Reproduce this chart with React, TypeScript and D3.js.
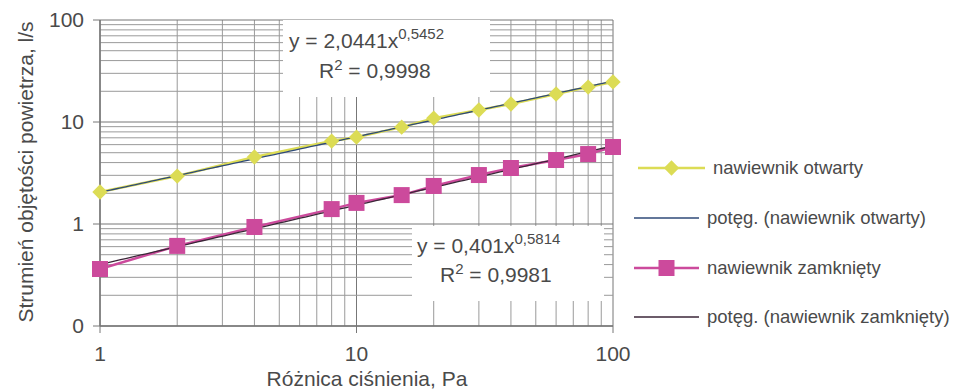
import * as d3 from 'd3';

// measured pressure differences, Pa
const pressure = [1, 2, 4, 8, 10, 15, 20, 30, 40, 60, 80, 100];
// air flow, l/s
const openFlow = [2.06, 2.95, 4.54, 6.5, 7.1, 8.9, 10.9, 13.1, 15.0, 18.8, 22.0, 24.7];
const closedFlow = [0.362, 0.61, 0.935, 1.4, 1.61, 1.92, 2.36, 3.02, 3.54, 4.24, 4.85, 5.69];

// power trendlines y = a * x^b
const trendOpen = { a: 2.0441, b: 0.5452 };
const trendClosed = { a: 0.401, b: 0.5814 };

const yTickValues = [0.1, 1, 10, 100];
const yTickLabels = ['0', '1', '10', '100'];
const xTickValues = [1, 10, 100];
const xTickLabels = ['1', '10', '100'];

const legendItems = [
  { label: 'nawiewnik otwarty', kind: 'diamond' },
  { label: 'potęg. (nawiewnik otwarty)', kind: 'trendOpen' },
  { label: 'nawiewnik zamknięty', kind: 'square' },
  { label: 'potęg. (nawiewnik zamknięty)', kind: 'trendClosed' },
];

const W = 953;
const H = 391;
const FONT = '"Liberation Sans", Arial, sans-serif';
const TEXT = '#4a4a4a';
const YELLOW = '#dcdc55';
const PINK = '#cc4a9c';
const TREND_OPEN = '#2f4a78';
const TREND_CLOSED = '#3b2638';

export default function App() {
  const x = d3.scaleLog().domain([1, 100]).range([100, 613]);
  const y = d3.scaleLog().domain([0.1, 100]).range([326, 20]);

  const gridX = x.ticks();
  const gridY = y.ticks();
  const isMajor = (v: number) => Math.abs(Math.log10(v) - Math.round(Math.log10(v))) < 1e-9;

  const line = d3.line<[number, number]>()
    .x(d => x(d[0]))
    .y(d => y(d[1]));

  const openPts = pressure.map((p, i) => [p, openFlow[i]] as [number, number]);
  const closedPts = pressure.map((p, i) => [p, closedFlow[i]] as [number, number]);

  const trendPts = (t: { a: number; b: number }) =>
    d3.range(0, 2.0001, 0.02).map(e => {
      const xv = Math.pow(10, e);
      return [xv, t.a * Math.pow(xv, t.b)] as [number, number];
    });

  const diamond = d3.symbol().type(d3.symbolDiamond2).size(150)();
  const legendY = [168, 218, 268, 317];

  return (
    <svg width={W} height={H} style={{ position: 'absolute', left: 0, top: 0, background: '#fff' }}
      fontFamily={FONT}>
      {/* grid */}
      <g strokeWidth={1}>
        {gridX.map(v => (
          <line key={'gx' + v} x1={x(v)} x2={x(v)} y1={y(100)} y2={y(0.1)}
            stroke={isMajor(v) ? '#777' : '#9a9a9a'} />
        ))}
        {gridY.map(v => (
          <line key={'gy' + v} x1={x(1)} x2={x(100)} y1={y(v)} y2={y(v)}
            stroke={isMajor(v) ? '#777' : '#9a9a9a'} />
        ))}
      </g>

      {/* label boxes cover the grid */}
      <rect x={283} y={20} width={207} height={77} fill="#fff" />
      <rect x={412} y={226} width={192} height={75} fill="#fff" />

      {/* axes */}
      <line x1={x(1)} x2={x(1)} y1={y(100)} y2={y(0.1)} stroke="#777" strokeWidth={1.5} />
      <line x1={x(1)} x2={x(100)} y1={y(0.1)} y2={y(0.1)} stroke="#777" strokeWidth={1.5} />
      {yTickValues.map(v => (
        <line key={'ty' + v} x1={x(1) - 7} x2={x(1)} y1={y(v)} y2={y(v)} stroke="#777" />
      ))}
      {xTickValues.map(v => (
        <line key={'tx' + v} x1={x(v)} x2={x(v)} y1={y(0.1)} y2={y(0.1) + 7} stroke="#777" />
      ))}

      {/* tick labels */}
      {yTickValues.map((v, i) => (
        <text key={'ly' + v} x={84} y={y(v)} dy="0.35em" textAnchor="end" fontSize={21} fill={TEXT}>
          {yTickLabels[i]}
        </text>
      ))}
      {xTickValues.map((v, i) => (
        <text key={'lx' + v} x={x(v)} y={361} textAnchor="middle" fontSize={21} fill={TEXT}>
          {xTickLabels[i]}
        </text>
      ))}

      {/* axis titles */}
      <text x={367} y={386} textAnchor="middle" fontSize={21} fill={TEXT}>Różnica ciśnienia, Pa</text>
      <text transform="translate(33,172) rotate(-90)" textAnchor="middle" fontSize={21} fill={TEXT}>
        Strumień objętości powietrza, l/s
      </text>

      {/* series lines */}
      <path d={line(openPts) ?? ''} fill="none" stroke={YELLOW} strokeWidth={2.5} />
      <path d={line(closedPts) ?? ''} fill="none" stroke={PINK} strokeWidth={2.5} />
      {/* trendlines */}
      <path d={line(trendPts(trendOpen)) ?? ''} fill="none" stroke={TREND_OPEN} strokeWidth={1.3} />
      <path d={line(trendPts(trendClosed)) ?? ''} fill="none" stroke={TREND_CLOSED} strokeWidth={1.3} />

      {/* markers */}
      {openPts.map(d => (
        <path key={'d' + d[0]} d={diamond ?? ''} transform={`translate(${x(d[0])},${y(d[1])})`} fill={YELLOW} />
      ))}
      {closedPts.map(d => (
        <rect key={'s' + d[0]} x={x(d[0]) - 8} y={y(d[1]) - 8} width={16} height={16} fill={PINK} />
      ))}

      {/* equations */}
      <text x={289} y={48} fontSize={21} fill={TEXT}>
        y = 2,0441x<tspan fontSize={15} dy={-9}>0,5452</tspan>
      </text>
      <text x={319} y={78} fontSize={21} fill={TEXT}>
        R<tspan fontSize={15} dy={-8}>2</tspan><tspan dy={8}> = 0,9998</tspan>
      </text>
      <text x={417} y={253} fontSize={21} fill={TEXT}>
        y = 0,401x<tspan fontSize={15} dy={-9}>0,5814</tspan>
      </text>
      <text x={440} y={282} fontSize={21} fill={TEXT}>
        R<tspan fontSize={15} dy={-8}>2</tspan><tspan dy={8}> = 0,9981</tspan>
      </text>

      {/* legend */}
      {legendItems.map((item, i) => {
        const ly = legendY[i];
        const color = item.kind === 'diamond' ? YELLOW : item.kind === 'square' ? PINK
          : item.kind === 'trendOpen' ? TREND_OPEN : TREND_CLOSED;
        const x0 = item.kind === 'diamond' ? 638 : 634;
        const x1 = item.kind === 'diamond' ? 705 : 699;
        return (
          <g key={item.label}>
            <line x1={x0} x2={x1} y1={ly} y2={ly} stroke={color}
              strokeWidth={item.kind === 'diamond' || item.kind === 'square' ? 2.5 : 1.3} />
            {item.kind === 'diamond' && (
              <path d={diamond ?? ''} transform={`translate(${(x0 + x1) / 2},${ly})`} fill={YELLOW} />
            )}
            {item.kind === 'square' && (
              <rect x={(x0 + x1) / 2 - 8} y={ly - 8} width={16} height={16} fill={PINK} />
            )}
            <text x={x1 + 8} y={ly} dy="0.35em" fontSize={18.5} fill={TEXT}>{item.label}</text>
          </g>
        );
      })}
    </svg>
  );
}
